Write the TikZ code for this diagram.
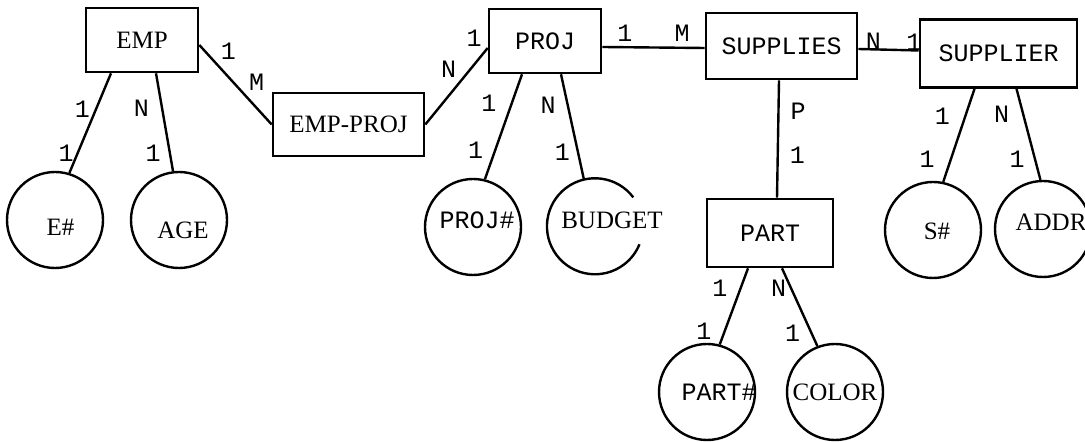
\documentclass[tikz,border=0pt]{standalone}
\usepackage{fontspec}
\setmainfont{Liberation Serif}
\setmonofont{Liberation Mono}
\usetikzlibrary{positioning, calc}
\tikzset{
  entity/.style={rectangle, draw, line width=1.3pt, inner sep=0pt,
    font=\fontsize{12.5}{14}\selectfont\ttfamily},
  entityrm/.style={entity, font=\fontsize{12.5}{14}\selectfont\rmfamily},
  attr/.style={circle, draw, line width=1.2pt, minimum size=48pt, inner sep=0pt},
  link/.style={line width=1.2pt},
  card/.style={font=\fontsize{12.5}{14}\selectfont\ttfamily, inner sep=1.5pt},
  ttlabel/.style={font=\fontsize{12.5}{14}\selectfont\ttfamily},
}

\begin{document}
\begin{tikzpicture}[x=0.5pt, y=-0.5pt, font=\fontsize{12.5}{14}\selectfont]
  \useasboundingbox (0,0) rectangle (1085,442);

  % entities and relationships
  \node[entityrm, minimum width=56pt, minimum height=32pt] (emp) at (142,40) {EMP};
  \node[entityrm, minimum width=75.5pt, minimum height=31.5pt] (empproj) at (348.5,124.5) {EMP-PROJ};
  \node[entity, minimum width=56pt, minimum height=32pt] (proj) at (545,41) {PROJ};
  \node[entity, minimum width=75.5pt, minimum height=33pt] (supplies) at (781.5,46) {SUPPLIES};
  \node[entity, minimum width=78.5pt, minimum height=34pt] (supplier) at (998.5,53.5) {SUPPLIER};
  \node[entity, minimum width=63pt, minimum height=34pt] (part) at (770,233) {PART};

  % attributes
  \node[attr, label={[xshift=2.75pt, yshift=-3.5pt]center:E\#}] (enum) at (55,220) {};
  \node[attr, label={[xshift=2pt, yshift=-5pt]center:AGE}] (age) at (179,220) {};
  \node[attr, label={[xshift=2pt, yshift=3.5pt, ttlabel]center:PROJ\#}] (projnum) at (473,227) {};
  \node[attr, draw=none, label={[xshift=9pt, yshift=3.5pt]center:BUDGET}] (budget) at (594,227) {};
  \draw[link] (budget.37) arc[start angle=37, end angle=338, radius=24pt];
  \node[attr, label={[xshift=2pt, yshift=-0.5pt]center:S\#}] (snum) at (933,230) {};
  \node[attr, label={[xshift=4pt, yshift=3.5pt]center:ADDR}] (addr) at (1043,229) {};
  \node[attr, label={[xshift=6pt, ttlabel]center:PART\#}] (partnum) at (707,392) {};
  \node[attr, label={center:COLOR}] (pcolor) at (835,392) {};

  % connectors with cardinalities
  \draw[link] ([xshift=-15.5pt]emp.south) -- (enum.73)
    node[card, pos=0.36, left=1pt] {1} node[card, pos=0.8, left=0pt] {1};
  \draw[link] ([xshift=7pt]emp.south) -- (age.97)
    node[card, pos=0.36, left=4.5pt] {N} node[card, pos=0.82, left=2.5pt] {1};
  \draw[link] ([yshift=-2.5pt]emp.east) -- (empproj.west)
    node[card, pos=0.24, above right] {1} node[card, pos=0.63, above right] {M};
  \draw[link] (empproj.east) -- ([yshift=-3.5pt]proj.west)
    node[card, pos=0.56, above left] {N} node[card, pos=0.97, above left] {1};
  \draw[link] ([xshift=-11.5pt]proj.south) -- (projnum.76)
    node[card, pos=0.28, left=5.5pt] {1} node[card, pos=0.72, left=4pt] {1};
  \draw[link] ([xshift=8pt]proj.south) -- (budget.102)
    node[card, pos=0.3, left=4pt] {N} node[card, pos=0.75, left=2pt] {1};
  \draw[link] ([yshift=-3pt]proj.east) -- ([yshift=-1pt]supplies.west)
    node[card, pos=0.22, above=1pt] {1} node[card, pos=0.78, above=1pt] {M};
  \draw[link] ([yshift=-1.5pt]supplies.east) -- ([yshift=1.5pt]supplier.west)
    node[card, pos=0.25, above=-2pt] {N} node[card, pos=0.92, above=-2pt] {1};
  \draw[link] ([xshift=-1.25pt]supplies.south) -- ([xshift=3.5pt]part.north)
    node[card, pos=0.26, right=4pt] {P} node[card, pos=0.64, right=4pt] {1};
  \draw[link] ([xshift=-12pt]supplier.south) -- (snum.78)
    node[card, pos=0.3, left=5.5pt] {1} node[card, pos=0.755, left=6pt] {1};
  \draw[link] ([xshift=9pt]supplier.south) -- (addr.93)
    node[card, pos=0.28, left=5pt] {N} node[card, pos=0.77, left=3pt] {1};
  \draw[link] ([xshift=-11pt]part.south) -- (partnum.75)
    node[card, pos=0.26, left=4.5pt] {1} node[card, pos=0.83, left=4.5pt] {1};
  \draw[link] ([xshift=6pt]part.south) -- (pcolor.111)
    node[card, pos=0.26, left=0.5pt] {N} node[card, pos=0.83, left=3.5pt] {1};
\end{tikzpicture}
\end{document}
